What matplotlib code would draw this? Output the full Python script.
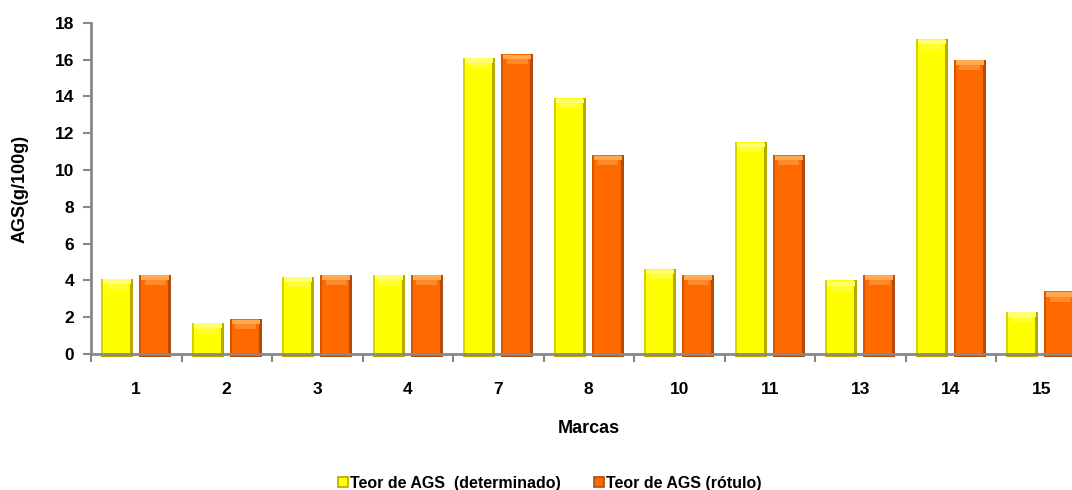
import matplotlib
matplotlib.use("Agg")
import matplotlib.pyplot as plt
import numpy as np
from matplotlib.patches import Patch

categories = ["1", "2", "3", "4", "7", "8", "10", "11", "13", "14", "15"]
determinado = [4.1, 1.7, 4.2, 4.3, 16.1, 13.9, 4.6, 11.5, 4.0, 17.1, 2.3]
rotulo = [4.3, 1.9, 4.3, 4.3, 16.3, 10.8, 4.3, 10.8, 4.3, 16.0, 3.4]
yticks = [0, 2, 4, 6, 8, 10, 12, 14, 16, 18]

plt.rcParams['font.family'] = ['Liberation Sans', 'DejaVu Sans']
plt.rcParams['font.weight'] = 'bold'

W, H = 1072, 490
fig = plt.figure(figsize=(W / 100, H / 100), dpi=100)
left, right_px = 91, 91 + 11 * 90.5
zero_y, top_y = 354, 22.7
ax = fig.add_axes([left / W, (H - zero_y) / H, (right_px - left) / W, (zero_y - top_y) / H])

x = np.arange(len(categories))
bw = 0.354
off = 0.21
base = -0.19

styles = [
    (determinado, -off, "#FFFF00", "#B4AA00", "#D8D000", "#FFFF70"),
    (rotulo, off, "#FF6A00", "#B04A10", "#D85500", "#FFA850"),
]
for vals, o, main, dark, ldark, hi in styles:
    vals = np.array(vals)
    xs = x + o
    layers = [
        ax.bar(xs, vals - base, bw, bottom=base, color=main, zorder=2, linewidth=0),
        ax.bar(xs - bw / 2 + 0.012, vals - base, 0.024, bottom=base, color=ldark, zorder=3, linewidth=0),
        ax.bar(xs + bw / 2 - 0.018, vals - base, 0.036, bottom=base, color=dark, zorder=3, linewidth=0),
        ax.bar(xs, np.full(len(vals), 0.25), bw - 0.04, bottom=vals - 0.28, color=hi, zorder=4, linewidth=0),
        ax.bar(xs, np.full(len(vals), 0.35), bw - 0.12, bottom=vals - 0.55, color=hi, alpha=0.5, zorder=4, linewidth=0),
        ax.bar(xs, np.full(len(vals), 0.2), bw, bottom=base, color=dark, zorder=3, linewidth=0),
    ]
    for cont in layers:
        for p in cont.patches:
            p.set_clip_on(False)

ax.set_xlim(-0.5, len(categories) - 0.5)
ax.set_ylim(0, 18)
ax.set_yticks(yticks)
ax.set_yticklabels([str(t) for t in yticks], fontsize=12.5, fontweight='bold')

ax.set_xticks(np.arange(-0.5, len(categories), 1.0))
ax.set_xticklabels([])
ax.set_xticks(x, minor=True)
ax.set_xticklabels(categories, minor=True, fontsize=12.5, fontweight='bold')
ax.tick_params(axis='x', which='minor', length=0, pad=20)
ax.tick_params(axis='x', which='major', length=6, width=1.5, color='#888888', direction='out')
ax.tick_params(axis='y', length=6, width=1.5, color='#888888', direction='out', pad=6)

for s in ['top', 'right']:
    ax.spines[s].set_visible(False)
for s in ['left', 'bottom']:
    ax.spines[s].set_color('#888888')
    ax.spines[s].set_linewidth(2)
    ax.spines[s].set_zorder(6)

fig.text(20 / W, 1 - 189 / H, "AGS(g/100g)", rotation=90, ha='center', va='center',
         fontsize=13, fontweight='bold')
fig.text(589 / W, 1 - 428 / H, "Marcas", ha='center', va='center', fontsize=13, fontweight='bold')

handles = [Patch(facecolor="#FFFF00", edgecolor="#B4AA00", linewidth=1.2),
           Patch(facecolor="#FF6A00", edgecolor="#B04A10", linewidth=1.2)]
fig.legend(handles, ["Teor de AGS  (determinado)", "Teor de AGS (rótulo)"],
           loc='center', bbox_to_anchor=(550 / W, 1 - 483 / H), ncol=2, frameon=False,
           prop={'weight': 'bold', 'size': 11.5}, handlelength=0.6, handleheight=0.6,
           handletextpad=0.15, columnspacing=2.1)

fig.savefig("out.png", dpi=100)
